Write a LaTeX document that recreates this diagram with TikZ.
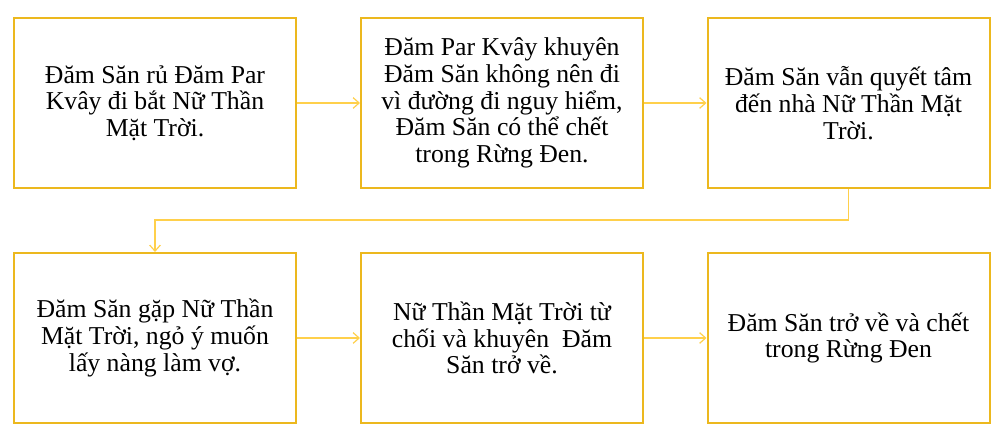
\documentclass[tikz,border=0pt]{standalone}
\usepackage{fontspec}
\setmainfont{Liberation Serif}
\usepackage{xcolor}
\usetikzlibrary{arrows.meta}
\definecolor{boxgold}{RGB}{236,184,30}
\definecolor{linkgold}{RGB}{255,208,75}

\tikzset{
    event/.style={draw=boxgold, line width=1.5pt, minimum width=211.5pt,
        minimum height=127.5pt, inner sep=0pt, align=center,
        font=\fontsize{19.3}{20}\selectfont},
    link/.style={draw=linkgold, line width=0.9pt,
        -{Straight Barb[length=4.5pt, width=8pt, line width=0.9pt]}}
}

\begin{document}
\begin{tikzpicture}[x=0.75pt, y=-0.75pt]
    \useasboundingbox (0,0) rectangle (1003,441);
    % first row
    \node[event] (ask)    at (155,103)   {Đăm Săn rủ Đăm Par\\Kvây đi bắt Nữ Thần\\Mặt Trời.};
    \node[event] (warn)   at (502,103)   {Đăm Par Kvây khuyên\\Đăm Săn không nên đi\\vì đường đi nguy hiểm,\\Đăm Săn có thể chết\\trong Rừng Đen.};
    \node[event] (go)     at (848.5,103) {Đăm Săn vẫn quyết tâm\\đến nhà Nữ Thần Mặt\\Trời.};
    % second row
    \node[event] (meet)   at (155,338)   {Đăm Săn gặp Nữ Thần\\Mặt Trời, ngỏ ý muốn\\lấy nàng làm vợ.};
    \node[event] (refuse) at (502,338)   {Nữ Thần Mặt Trời từ\\chối và khuyên\ \ Đăm\\Săn trở về.};
    \node[event] (death)  at (848.5,338) {Đăm Săn trở về và chết\\trong Rừng Đen};
    \coordinate (turn) at (848.5,220);

    \draw[link] (ask) -- (warn);
    \draw[link] (warn) -- (go);
    \draw[link] (go.south) -- (turn) -| (meet.north);
    \draw[link] (meet) -- (refuse);
    \draw[link] (refuse) -- (death);
\end{tikzpicture}
\end{document}
